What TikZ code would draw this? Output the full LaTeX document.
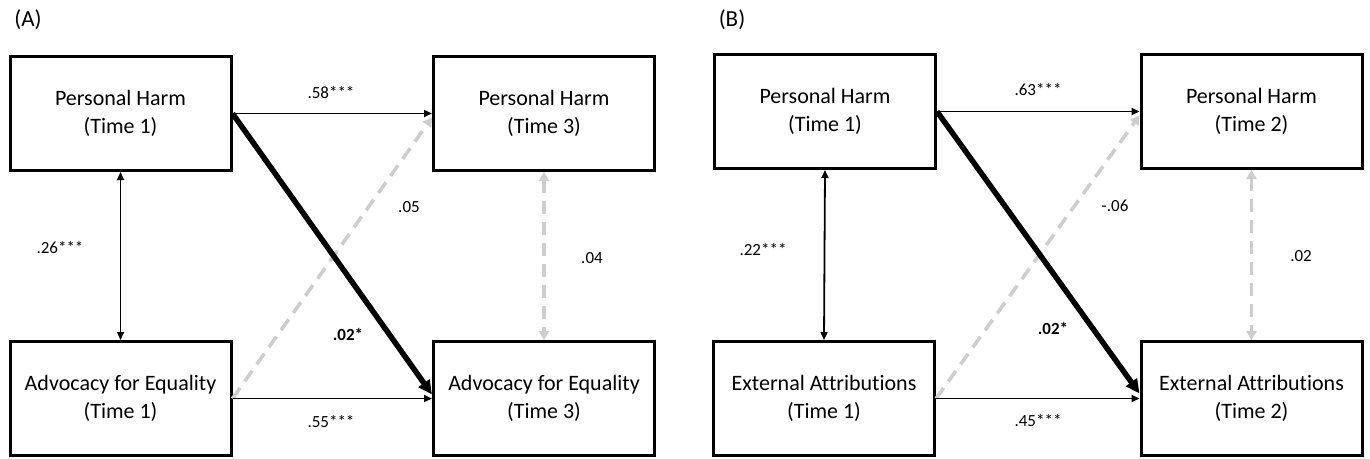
\documentclass[tikz,border=0pt]{standalone}
\usepackage{fontspec}
\setmainfont{Carlito}[Ligatures=CommonOff]
\usetikzlibrary{arrows.meta,calc}
\definecolor{lgray}{RGB}{205,205,205}
\tikzset{
  box/.style={draw, line width=3pt, minimum width=221pt, minimum height=114pt,
    inner sep=0pt, align=center, font=\fontsize{22}{28}\selectfont},
  lab/.style={inner sep=0pt, font=\fontsize{17}{20}\selectfont},
  panel/.style={inner sep=0pt, font=\fontsize{23}{26}\selectfont},
  thinarr/.style={line width=1.8pt, -{Triangle[length=8pt,width=7pt]}},
  thinboth/.style={line width=1.8pt, {Triangle[length=8pt,width=7pt]}-{Triangle[length=8pt,width=7pt]}},
  thickarr/.style={line width=5.5pt, -{Triangle[length=14pt,width=13pt]}},
  grayarr/.style={lgray, line width=3.5pt, dash pattern=on 13pt off 8pt, -{Triangle[length=9pt,width=10pt]}},
  grayboth/.style={lgray, line width=3.5pt, dash pattern=on 13pt off 8pt, {Triangle[length=9pt,width=10pt]}-{Triangle[length=9pt,width=10pt]}},
}
\begin{document}
\begin{tikzpicture}[x=1pt,y=-1pt]
\useasboundingbox (0,0) rectangle (1370,458);
% ---------- Panel A ----------
\node[panel] (pA) at (28,20) {(A)};
\node[box] (A11) at (120.5,113.5) {Personal Harm\\(Time 1)};
\node[box] (A13) at (544,113.5) {Personal Harm\\(Time 3)};
\node[box] (A21) at (120.5,398.5) {Advocacy for Equality\\(Time 1)};
\node[box] (A23) at (544,398.5) {Advocacy for Equality\\(Time 3)};
\draw[grayarr] (A21.east) -- ($(A13.west)+(0,4)$);
\draw[grayboth] (A13.south) -- (A23.north);
\draw[thinarr] (A11.east) -- (A13.west);
\draw[thinarr] (A21.east) -- (A23.west);
\draw[thinboth] (A11.south) -- (A21.north);
\draw[thickarr] (A11.east) -- ($(A23.west)+(0,-4)$);
\node[lab] (lA1) at (331,93) {.58***};
\node[lab] (lA2) at (60,248) {.26***};
\node[lab] (lA3) at (409,207) {.05};
\node[lab] (lA4) at (592,258) {.04};
\node[lab,font=\fontsize{17}{20}\selectfont\bfseries] (lA5) at (348,334) {.02*};
\node[lab] (lA6) at (331,422) {.55***};
% ---------- Panel B ----------
\node[panel] (pB) at (732,20) {(B)};
\node[box] (B11) at (825,111.5) {Personal Harm\\(Time 1)};
\node[box] (B12) at (1251.5,111.5) {Personal Harm\\(Time 2)};
\node[box] (B21) at (824,398.5) {External Attributions\\(Time 1)};
\node[box] (B22) at (1251.5,398.5) {External Attributions\\(Time 2)};
\draw[grayarr] (B21.east) -- ($(B12.west)+(0,4)$);
\draw[grayboth] (B12.south) -- (B22.north);
\draw[thinarr] (B11.east) -- (B12.west);
\draw[thinarr] (B21.east) -- (B22.west);
\draw[thinboth] (B11.south) -- (B21.north);
\draw[thickarr] (B11.east) -- ($(B22.west)+(0,-5)$);
\node[lab] (lB1) at (1038,90) {.63***};
\node[lab] (lB2) at (763,250) {.22***};
\node[lab] (lB3) at (1115,206) {-.06};
\node[lab] (lB4) at (1301,256) {.02};
\node[lab,font=\fontsize{17}{20}\selectfont\bfseries] (lB5) at (1053,328) {.02*};
\node[lab] (lB6) at (1038,421) {.45***};
\end{tikzpicture}
\end{document}
